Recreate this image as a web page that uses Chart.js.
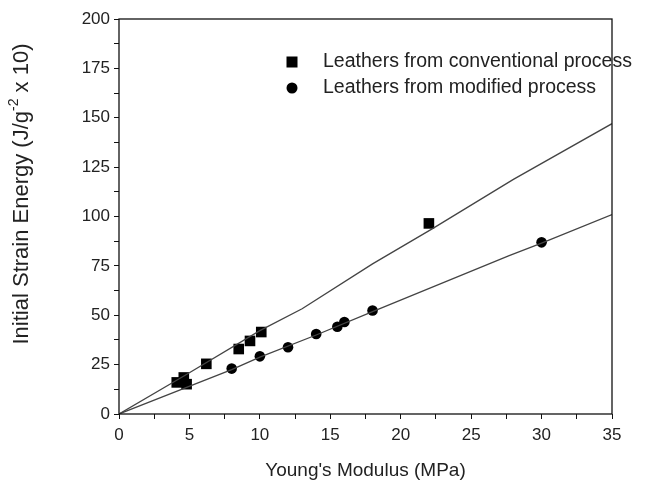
<!DOCTYPE html>
<html>
<head>
<meta charset="utf-8">
<script src="https://cdn.jsdelivr.net/npm/chart.js"></script>
<style>
  html, body { margin: 0; padding: 0; background: #fff; }
  #wrap { width: 665px; height: 486px; }
</style>
</head>
<body>
<div id="wrap"><canvas id="grafico" width="665" height="486"></canvas></div>
<script>
// valores
const convX = [4.1, 4.6, 4.8, 6.2, 8.5, 9.3, 10.1, 22.0];
const convY = [16.0, 18.5, 15.1, 25.4, 32.9, 37.0, 41.5, 96.5];
const modX = [8.0, 10.0, 12.0, 14.0, 15.5, 16.0, 18.0, 30.0];
const modY = [23.0, 29.2, 33.8, 40.5, 44.2, 46.6, 52.4, 86.9];

// curvas ajustadas
const fitConvX = [0, 4.7, 10, 13, 18, 22.2, 28, 35];
const fitConvY = [0, 19.6, 42.2, 53.3, 76, 93.6, 118.8, 147];
const fitModX = [0, 8, 10, 14, 18, 27.7, 30, 35];
const fitModY = [0, 22.5, 28.8, 40, 51.8, 80.2, 86.5, 101];

const legendLabels = ["Leathers from conventional process", "Leathers from modified process"];
const xTitle = "Young's Modulus (MPa)";
const yTitle = ["Initial Strain Energy (J/g", "-2", " x 10)"];

const pares = (xs, ys) => xs.map((x, i) => ({ x: x, y: ys[i] }));
const fonte = "'Liberation Sans', Arial, sans-serif";

const moldura = {
  id: "moldura",
  afterDraw(chart) {
    const { ctx, chartArea: a } = chart;
    ctx.save();
    ctx.strokeStyle = "#111";
    ctx.lineWidth = 1.3;
    ctx.strokeRect(a.left, a.top, a.right - a.left, a.bottom - a.top);

    // legenda dentro do grafico
    const lx = a.left + 173, ly = a.top + 43;
    ctx.fillStyle = "#000";
    ctx.fillRect(lx - 5.5, ly - 5.5, 11, 11);
    ctx.beginPath();
    ctx.arc(lx, ly + 26, 5.5, 0, Math.PI * 2);
    ctx.fill();
    ctx.fillStyle = "#222";
    ctx.font = "19.5px " + fonte;
    ctx.textBaseline = "middle";
    ctx.fillText(legendLabels[0], lx + 31, ly);
    ctx.fillText(legendLabels[1], lx + 31, ly + 26);
    ctx.restore();

    // titulo do eixo y com expoente
    ctx.save();
    const fNormal = "22px " + fonte, fSup = "14px " + fonte;
    ctx.font = fNormal;
    const w1 = ctx.measureText(yTitle[0]).width;
    const w3 = ctx.measureText(yTitle[2]).width;
    ctx.font = fSup;
    const w2 = ctx.measureText(yTitle[1]).width;
    const total = w1 + w2 + w3;
    ctx.translate(22, 194);
    ctx.rotate(-Math.PI / 2);
    ctx.fillStyle = "#222";
    ctx.textBaseline = "middle";
    let x0 = -total / 2;
    ctx.font = fNormal;
    ctx.fillText(yTitle[0], x0, 0);
    ctx.font = fSup;
    ctx.fillText(yTitle[1], x0 + w1, -8);
    ctx.font = fNormal;
    ctx.fillText(yTitle[2], x0 + w1 + w2, 0);
    ctx.restore();
  }
};

new Chart(document.getElementById("grafico"), {
  type: "scatter",
  data: {
    datasets: [
      {
        type: "line",
        data: pares(fitConvX, fitConvY),
        borderColor: "#444",
        borderWidth: 1.3,
        pointRadius: 0,
        tension: 0,
        fill: false
      },
      {
        type: "line",
        data: pares(fitModX, fitModY),
        borderColor: "#444",
        borderWidth: 1.3,
        pointRadius: 0,
        tension: 0,
        fill: false
      },
      {
        label: legendLabels[0],
        data: pares(convX, convY),
        pointStyle: "rect",
        pointRadius: 7.5,
        backgroundColor: "#000",
        borderColor: "#000",
        borderWidth: 0
      },
      {
        label: legendLabels[1],
        data: pares(modX, modY),
        pointStyle: "circle",
        pointRadius: 5.3,
        backgroundColor: "#000",
        borderColor: "#000",
        borderWidth: 0
      }
    ]
  },
  options: {
    responsive: false,
    animation: false,
    layout: { padding: { top: 19, right: 53, left: 0, bottom: 0 } },
    plugins: { legend: { display: false }, tooltip: { enabled: false } },
    scales: {
      x: {
        type: "linear",
        min: 0,
        max: 35,
        afterFit: s => { s.height = 72; },
        border: { display: false },
        grid: { drawOnChartArea: false, tickLength: 5, color: "#111", tickWidth: 1 },
        ticks: {
          stepSize: 2.5,
          autoSkip: false,
          maxRotation: 0,
          color: "#222",
          font: { family: fonte, size: 17 },
          padding: 6,
          callback: v => (v % 5 === 0 ? v : "")
        },
        title: {
          display: true,
          text: xTitle,
          color: "#222",
          font: { family: fonte, size: 19 },
          padding: { top: 14 }
        }
      },
      y: {
        min: 0,
        max: 200,
        afterFit: s => { s.width = 119; },
        border: { display: false },
        grid: { drawOnChartArea: false, tickLength: 5, color: "#111", tickWidth: 1 },
        ticks: {
          stepSize: 12.5,
          autoSkip: false,
          color: "#222",
          font: { family: fonte, size: 17 },
          padding: 4,
          callback: v => (v % 25 === 0 ? v : "")
        }
      }
    }
  },
  plugins: [moldura]
});
</script>
</body>
</html>
